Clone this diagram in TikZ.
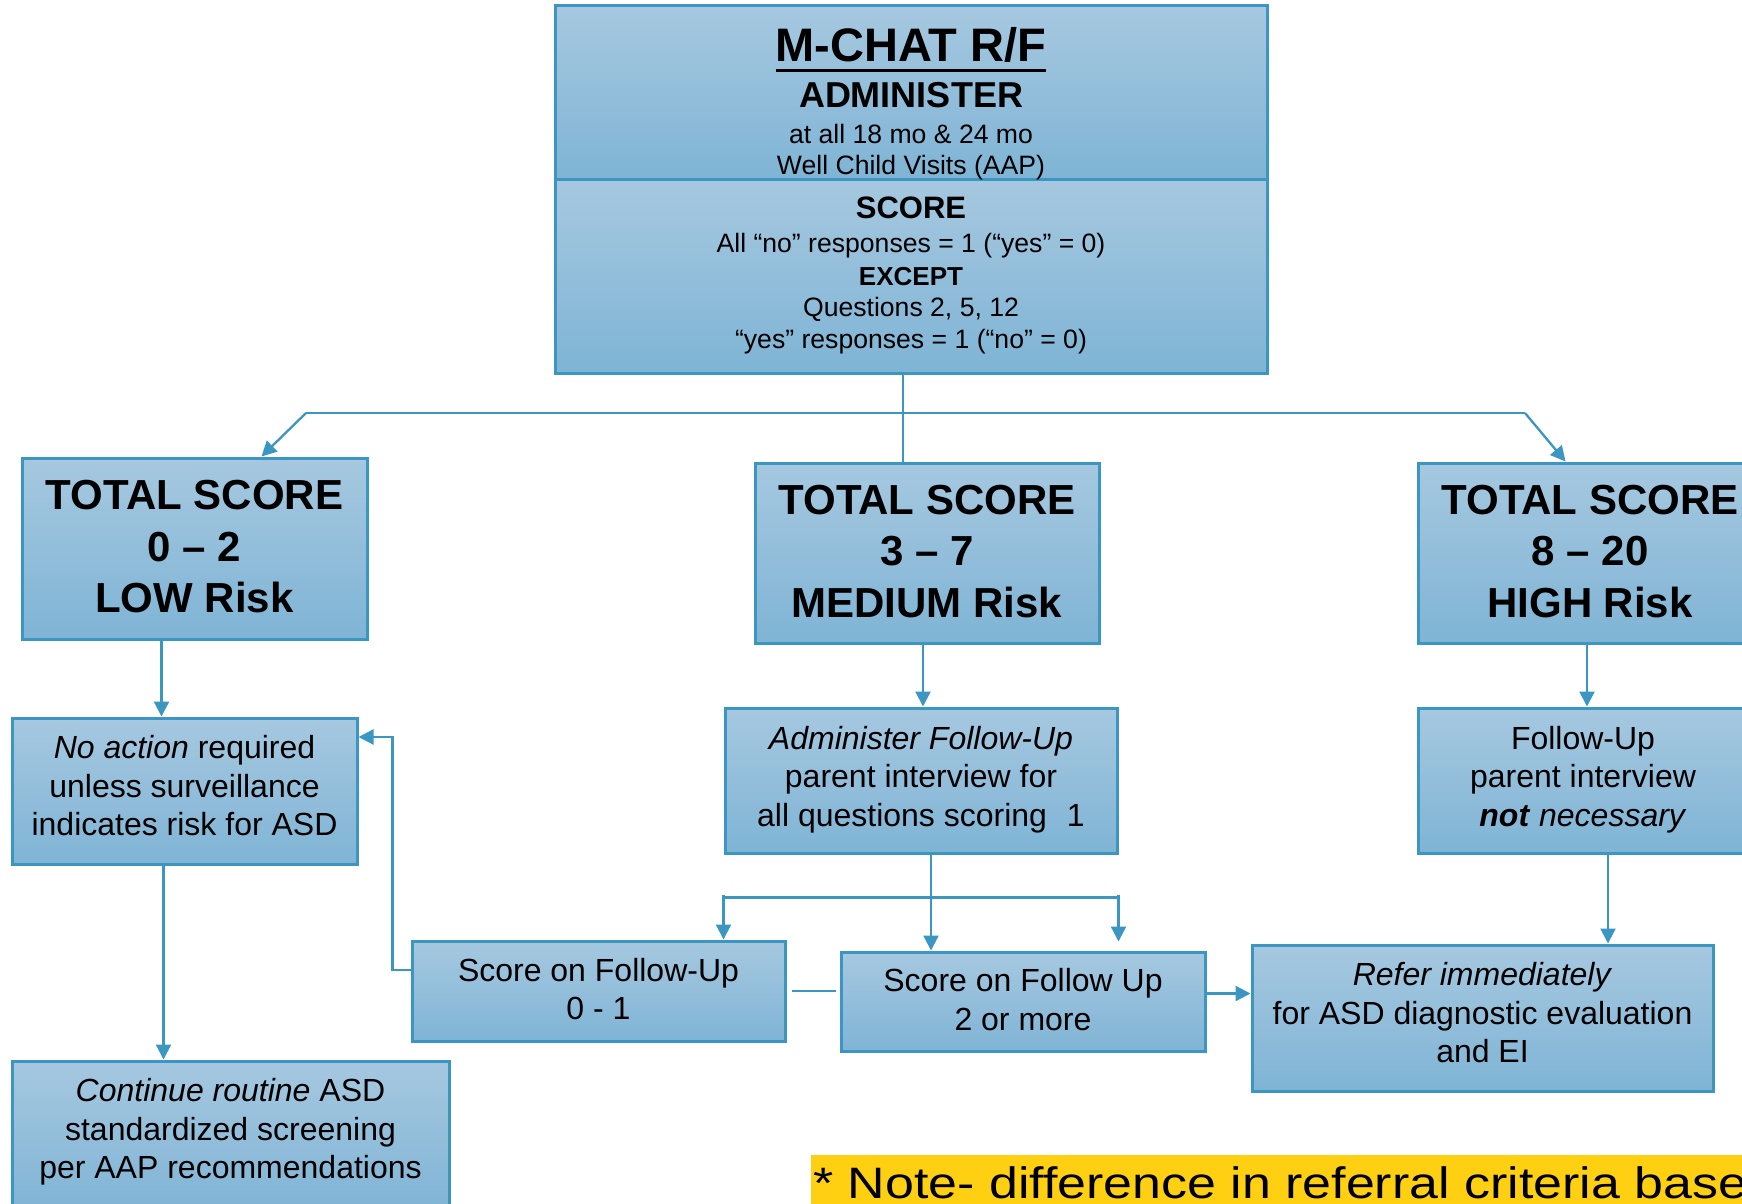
\documentclass[tikz,border=0pt]{standalone}
\usepackage{fontspec}
\setmainfont{Liberation Sans}
\newfontfamily\notefont[FakeStretch=1.18]{Liberation Sans}
\usetikzlibrary{arrows.meta}

\definecolor{edge}{RGB}{59,151,193}
\definecolor{filltop}{RGB}{166,200,224}
\definecolor{fillbot}{RGB}{127,180,213}
\definecolor{noteyellow}{RGB}{255,208,18}

% thick underline for the heading
\newcommand\thickul[1]{\setbox0\hbox{#1}\rlap{\rule[-10pt]{\wd0}{3pt}}\box0}
% invisible depth added under the last line of a box
\newcommand\lowpad[1]{\rule[-#1]{0pt}{0pt}}

\tikzset{
  box/.style={draw=edge, line width=3pt, top color=filltop, bottom color=fillbot,
              rectangle, inner sep=0pt, align=center, text=black},
  conn/.style={draw=edge, line width=2.3pt},
  arr/.style={conn, -{Triangle[length=15pt,width=15pt]}},
  big/.style={font=\fontsize{42}{51.5}\selectfont\bfseries},
  body/.style={font=\fontsize{32}{38.5}\selectfont},
  hdr/.style={anchor=base, inner sep=0pt},
}

\begin{document}
\begin{tikzpicture}[x=1pt,y=-1pt]
\useasboundingbox (0,0) rectangle (1742,1204);
\clip (0,0) rectangle (1742,1204);
\fill[white] (0,0) rectangle (1742,1204);

% ---------- screening box (two panels) ----------
\node[box, minimum width=712pt, minimum height=173pt] (admin) at (911,92.5) {};
\node[box, minimum width=712pt, minimum height=194pt] (score) at (911,276) {};

\node[hdr, font=\fontsize{47}{47}\selectfont\bfseries] (title) at (911,62) {\thickul{M-CHAT R/F}};
\node[hdr, font=\fontsize{36}{36}\selectfont\bfseries] (adm) at (911,108) {ADMINISTER};
\node[hdr, font=\fontsize{26.6}{32}\selectfont] (ages) at (911,143) {at all 18 mo \& 24 mo};
\node[hdr, font=\fontsize{26.6}{32}\selectfont] (visits) at (911,175) {Well Child Visits (AAP)};
\node[hdr, font=\fontsize{31}{31}\selectfont\bfseries] (scr) at (911,218) {SCORE};
\node[hdr, font=\fontsize{26.6}{32}\selectfont] (rule1) at (911,252) {All “no” responses = 1 (“yes” = 0)};
\node[hdr, font=\fontsize{26}{26}\selectfont\bfseries] (exc) at (911,285) {EXCEPT};
\node[hdr, font=\fontsize{26.6}{32}\selectfont] (qs) at (911,316) {Questions 2, 5, 12};
\node[hdr, font=\fontsize{26.6}{32}\selectfont] (rule2) at (911,348) {“yes” responses = 1 (“no” = 0)};

% ---------- risk levels ----------
\node[box, big, minimum width=345pt, minimum height=181pt] (low) at (194.5,548.5)
  {TOTAL SCORE\\0 – 2\\LOW Risk\lowpad{4pt}};
\node[box, big, minimum width=344pt, minimum height=180pt] (med) at (927,553)
  {TOTAL SCORE\\3 – 7\\MEDIUM Risk\lowpad{4pt}};
\node[box, big, minimum width=344pt, minimum height=180pt] (high) at (1590,553)
  {TOTAL SCORE\\8 – 20\\HIGH Risk\lowpad{4pt}};

% ---------- actions ----------
\node[box, body, minimum width=345pt, minimum height=146pt] (noact) at (184.5,791)
  {\textit{No action} required\\unless surveillance\\indicates risk for ASD\lowpad{11pt}};
\node[box, body, minimum width=437pt, minimum height=151pt] (cont) at (230.5,1136.5)
  {\textit{Continue routine} ASD\\standardized screening\\per AAP recommendations\lowpad{16pt}};
\node[box, body, minimum width=392pt, minimum height=145pt] (fup) at (921,780.5)
  {\textit{Administer Follow-Up}\\parent interview for\\all questions scoring\hspace{20pt}1\lowpad{9pt}};
% box runs past the right edge; its text sits a little left of centre
\node[box, body, minimum width=330pt, minimum height=145pt] (funo) at (1583,780.5)
  {Follow-Up\\parent interview\\\textbf{\textit{not}} \textit{necessary}\lowpad{9pt}};
\node[box, body, minimum width=373pt, minimum height=100pt] (s01) at (598.5,991)
  {Score on Follow-Up\\0 - 1\lowpad{4pt}};
\node[box, body, minimum width=364pt, minimum height=99pt] (s2) at (1023,1001.5)
  {Score on Follow Up\\2 or more\lowpad{4pt}};
\node[box, body, minimum width=461pt, minimum height=146pt] (refer) at (1482.5,1018)
  {\textit{Refer immediately}\\for ASD diagnostic evaluation\\and EI\lowpad{11pt}};

% ---------- note band ----------
\node[fill=noteyellow, inner sep=0pt, anchor=north west, minimum width=940pt,
      minimum height=60pt] (band) at (811,1155) {};
\node[anchor=base west, inner sep=0pt, font=\notefont\fontsize{44}{44}\selectfont]
  (note) at (813,1198) {* Note- difference in referral criteria base};

% ---------- connectors ----------
\coordinate (hl) at (306,413);
\coordinate (hr) at (1525,413);
\draw[conn] (hl) -- (hr);
\draw[conn] ([xshift=-8pt]score.south) -- ([xshift=-8pt]score.south |- med.north);
\draw[arr] (hl) -- ([xshift=241pt]low.north west);
\draw[arr] (hr) -- ([xshift=149pt]high.north west);

\draw[arr] ([xshift=-33pt]low.south) -- ([xshift=-33pt]low.south |- noact.north);
\draw[arr] ([xshift=-21pt]noact.south) -- ([xshift=-21pt]noact.south |- cont.north);
\draw[arr] ([xshift=-4pt]med.south) -- ([xshift=-4pt]med.south |- fup.north);
\draw[arr] ([xshift=4pt]high.south west -| funo.south) -- ([xshift=4pt]funo.north);

% split below the follow-up interview
\coordinate (bl) at ([yshift=-43pt]fup.south west);
\coordinate (br) at ([yshift=-43pt]fup.south east);
\draw[conn] (bl) -- (br);
\draw[arr] ([xshift=10pt]fup.south) -- ([xshift=10pt]fup.south |- s2.north);
\draw[arr] ([yshift=3pt]bl) -- (bl |- s01.north);
\draw[arr] ([yshift=3pt]br) -- ([yshift=9pt]br |- s2.north);

\draw[conn] ([xshift=5pt]s01.east) -- ([xshift=-4pt]s01.east -| s2.west);
\draw[arr] ([yshift=8pt]s2.east) -- ([yshift=8pt]s2.east -| refer.west);
\draw[arr] ([xshift=25pt]funo.south) -- ([xshift=25pt]funo.south |- refer.north);

\draw[arr] ([yshift=21pt]s01.west) -- ++(-18,0) |- ([yshift=54pt]noact.east);
\end{tikzpicture}
\end{document}
